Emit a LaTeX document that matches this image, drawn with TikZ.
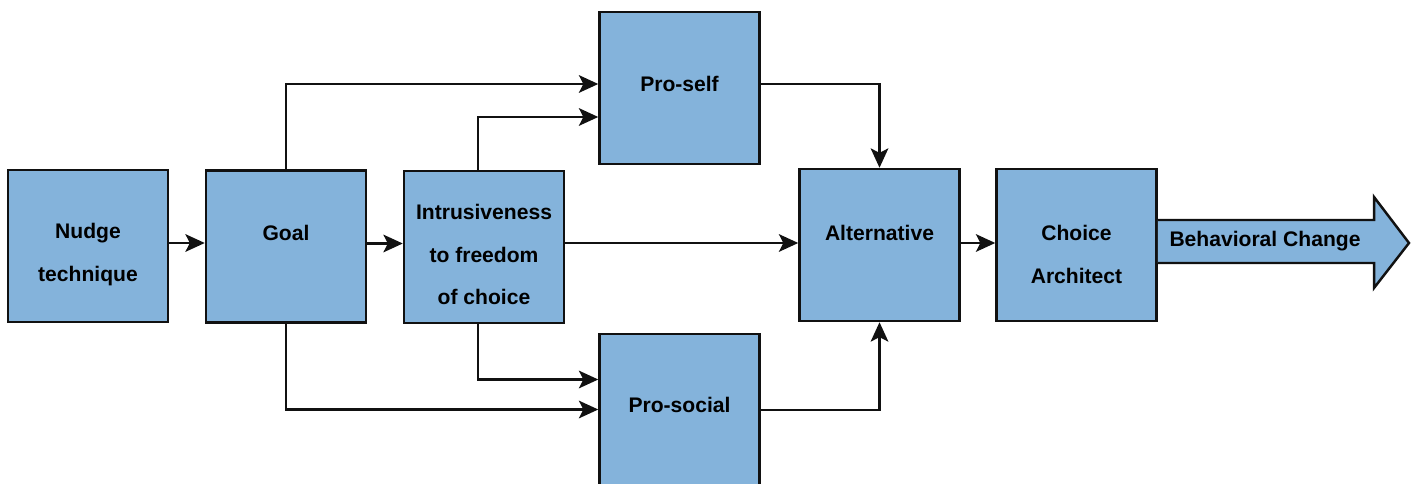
\documentclass[tikz,border=0pt]{standalone}
\usepackage{fontspec}
\setmainfont{Liberation Sans}
\usetikzlibrary{arrows.meta,calc}
\definecolor{NudgeFill}{HTML}{84B3DB}
\definecolor{NudgeLine}{HTML}{111111}

\begin{document}
\begin{tikzpicture}[font=\bfseries\fontsize{12}{24.4}\selectfont,
 >={Stealth[length=11pt,width=10pt,inset=2.5pt]},
 box/.style={draw=NudgeLine,line width=1.4pt,fill=NudgeFill,
 minimum width=3.2cm,minimum height=3.04cm,inner sep=0pt},
 link/.style={->,line width=1.4pt,color=NudgeLine}]
\useasboundingbox (0,0) rectangle (28.3,-9.68);
\node[box,label={[yshift=-0.17cm,align=center]center:Nudge\\technique}] (nudge) at (1.76,-4.92) {};
\node[box,label={[yshift=0.27cm]center:Goal}] (goal) at (5.72,-4.93) {};
\node[box,label={[yshift=-0.15cm,align=center]center:Intrusiveness\\to freedom\\of choice}] (intr) at (9.68,-4.94) {};
\node[box,label={[yshift=0.08cm]center:Pro-self}] (proself) at (13.59,-1.76) {};
\node[box,label={[yshift=0.11cm]center:Pro-social}] (prosocial) at (13.59,-8.20) {};
\node[box,label={[yshift=0.24cm]center:Alternative}] (alt) at (17.59,-4.90) {};
\node[box,label={[yshift=-0.19cm,align=center]center:Choice\\Architect}] (choice) at (21.53,-4.90) {};
% output arrow
\filldraw[draw=NudgeLine,line width=1.4pt,fill=NudgeFill] ($(choice.east)+(0,0.50)$) -- (27.48,-4.40) -- (27.48,-3.94)
 -- (28.18,-4.86) -- (27.48,-5.76) -- (27.48,-5.26) -- ($(choice.east)+(0,-0.36)$);
\node (change) at (25.30,-4.82) {Behavioral Change};
\draw[link] ([yshift=0.06cm]nudge.east) -- ([yshift=0.06cm]nudge.east -| goal.west);
\draw[link] ([yshift=0.06cm]goal.east) -- ([yshift=0.06cm]goal.east -| intr.west);
\draw[link] (goal.north) |- ([yshift=0.08cm]proself.west);
\draw[link] ([xshift=-0.12cm]intr.north) |- ([yshift=-0.58cm]proself.west);
\draw[link] ([yshift=0.08cm]intr.east) -- ([yshift=0.08cm]intr.east -| alt.west);
\draw[link] ([xshift=-0.12cm]intr.south) |- ([yshift=0.61cm]prosocial.west);
\draw[link] (goal.south) |- ([yshift=0.01cm]prosocial.west);
\draw[link] ([yshift=0.08cm]proself.east) -| (alt.north);
\draw[link] (prosocial.east) -| (alt.south);
\draw[link] ([yshift=0.04cm]alt.east) -- ([yshift=0.04cm]alt.east -| choice.west);
\end{tikzpicture}
\end{document}
